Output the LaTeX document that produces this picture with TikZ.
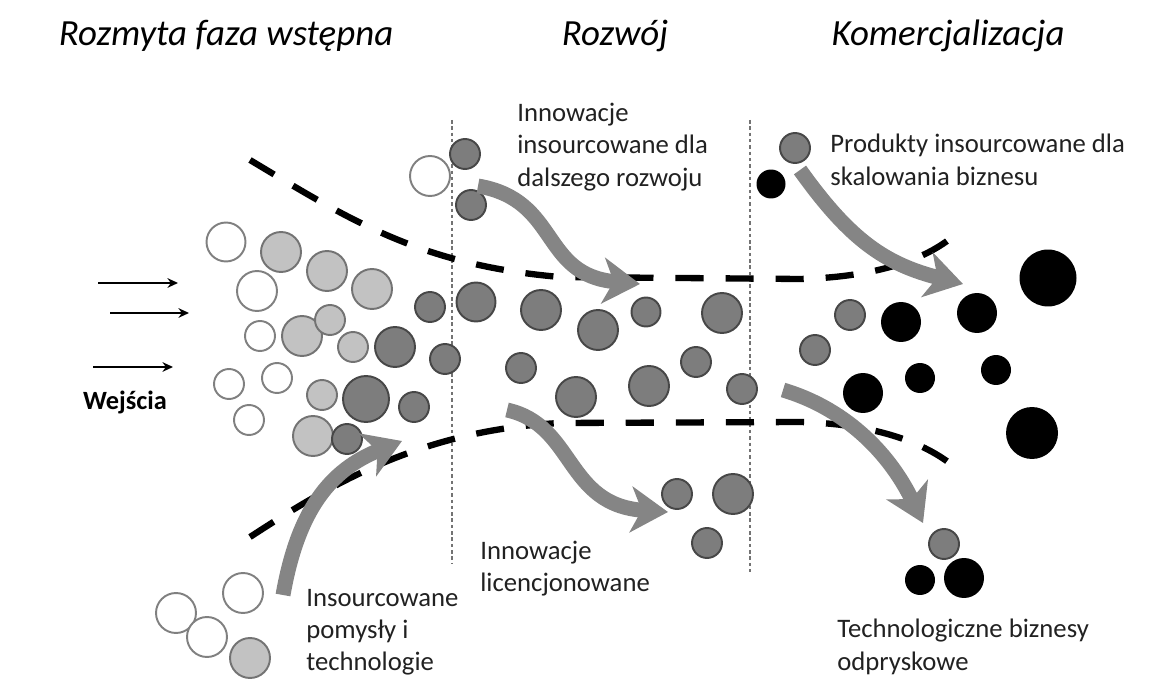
\documentclass[tikz,border=0pt]{standalone}
\usepackage{fontspec}
\setmainfont{Carlito}
\usetikzlibrary{arrows.meta}

\definecolor{ltfill}{gray}{0.76}
\definecolor{ltline}{gray}{0.45}
\definecolor{dkfill}{gray}{0.49}
\definecolor{dkline}{gray}{0.28}
\definecolor{wline}{gray}{0.50}
\definecolor{flowgray}{gray}{0.52}
\definecolor{sepgray}{gray}{0.45}
\definecolor{txtc}{gray}{0.13}

% one circle: style, name, centre, radius (px)
\newcommand\ball[4]{\node[#1, minimum size=#4*0.04cm] (#2) at (#3) {};}

\begin{document}
\begin{tikzpicture}[x=0.02cm, y=-0.02cm,
  ball/.style={circle, inner sep=0pt, outer sep=0pt, line width=1.1pt},
  wball/.style={ball, draw=wline, fill=white},
  lball/.style={ball, draw=ltline, fill=ltfill},
  dball/.style={ball, draw=dkline, fill=dkfill},
  kball/.style={ball, fill=black},
  ttl/.style={font=\fontsize{21}{25}\selectfont\itshape, anchor=base, inner sep=0pt},
  lbl/.style={font=\fontsize{15.2}{18.3}\selectfont, align=left, anchor=north west, inner sep=0pt, text=txtc},
  sep/.style={draw=sepgray, line width=0.9pt, dash pattern=on 2pt off 1.6pt},
  funnel/.style={line width=3.6pt, dash pattern=on 16pt off 12.5pt},
  flow/.style={draw=flowgray, line width=8.5pt, -{Stealth[length=21pt, width=26pt, inset=6pt]}},
  inflow/.style={line width=1.7pt, -{Stealth[length=6pt, width=5.5pt]}}
]
\useasboundingbox (0,0) rectangle (1176,685);

% stage titles
\node[ttl] (t1) at (226,46) {Rozmyta faza wstępna};
\node[ttl] (t2) at (615,46) {Rozwój};
\node[ttl] (t3) at (948,46) {Komercjalizacja};

% stage separators
\coordinate (s1t) at (452,120); \coordinate (s1b) at (452,563);
\coordinate (s2t) at (750,120); \coordinate (s2b) at (750,572);
\draw[sep] (s1t) -- (s1b);
\draw[sep] (s2t) -- (s2b);

% inputs
\coordinate (i1a) at (98,283);  \coordinate (i1b) at (178,283);
\coordinate (i2a) at (110,313); \coordinate (i2b) at (189,313);
\coordinate (i3a) at (93,367);  \coordinate (i3b) at (173,367);
\draw[inflow] (i1a) -- (i1b);
\draw[inflow] (i2a) -- (i2b);
\draw[inflow] (i3a) -- (i3b);
\node[font=\fontsize{15}{17}\selectfont\bfseries, anchor=base, inner sep=0pt] (win) at (125,410) {Wejścia};

% fuzzy front end
\ball{wball}{w1}{226,242}{19.5}
\ball{lball}{l1}{281,252}{20}
\ball{lball}{l2}{327,271}{20}
\ball{lball}{l3}{372,289}{20}
\ball{wball}{w2}{257,291}{20}
\ball{dball}{d1}{430,307}{15}
\ball{lball}{l4}{302,336}{20}
\ball{lball}{l5}{330,320}{15}
\ball{wball}{w3}{260,336}{15}
\ball{lball}{l6}{353,347}{15}
\ball{dball}{d2}{395,347}{20}
\ball{dball}{d3}{445,359}{15}
\ball{wball}{w4}{229,384}{15}
\ball{wball}{w5}{277,378}{15}
\ball{lball}{l7}{322,395}{15}
\ball{dball}{d4}{366,399}{23}
\ball{dball}{d5}{414,407}{15}
\ball{wball}{w6}{249,420}{15}
\ball{lball}{l8}{313,436}{20}
\ball{dball}{d6}{347,439}{15}

% ideas brought in from outside
\ball{wball}{w7}{430,176}{20}
\ball{dball}{d7}{465,154}{15}
\ball{dball}{d8}{471,205}{15}
\ball{wball}{w8}{243,593}{20}
\ball{wball}{w9}{176,613}{20}
\ball{wball}{w10}{207,637}{20}
\ball{lball}{l9}{250,658}{20}

% development
\ball{dball}{d9}{476,302}{19.5}
\ball{dball}{d10}{541,310}{20}
\ball{dball}{d11}{598,330}{20}
\ball{dball}{d12}{646,312}{14.5}
\ball{dball}{d13}{722,313}{20}
\ball{dball}{d14}{521,368}{15}
\ball{dball}{d15}{576,397}{20}
\ball{dball}{d16}{649,386}{20}
\ball{dball}{d17}{696,362}{15}
\ball{dball}{d18}{742,389}{15}
\ball{dball}{d19}{677,494}{15}
\ball{dball}{d20}{733,494}{20}
\ball{dball}{d21}{707,543}{15}

% commercialisation
\ball{dball}{g1}{795,148}{15}
\ball{kball}{k1}{771,184}{14.5}
\ball{kball}{k2}{1048,278}{28.5}
\ball{dball}{g2}{850,315}{15}
\ball{kball}{k3}{901,322}{20}
\ball{kball}{k4}{977,313}{20}
\ball{dball}{g3}{815,350}{15}
\ball{kball}{k5}{920,378}{15}
\ball{kball}{k6}{996,370}{15}
\ball{kball}{k7}{863,393}{20}
\ball{kball}{k8}{1032,433}{26}
\ball{dball}{g4}{944,544}{15}
\ball{kball}{k9}{920,580}{15}
\ball{kball}{k10}{964,578}{20}

% funnel outline
\coordinate (u0) at (250,160); \coordinate (u1) at (560,277);
\coordinate (u2) at (800,279); \coordinate (u3) at (958,232);
\draw[funnel] (u0) .. controls (350,220) and (420,265) .. (u1) -- (u2)
              .. controls (880,277) and (930,258) .. (u3);
\coordinate (b0) at (250,537); \coordinate (b1) at (560,423);
\coordinate (b2) at (800,422); \coordinate (b3) at (958,470);
\draw[funnel] (b0) .. controls (330,485) and (420,430) .. (b1) -- (b2)
              .. controls (880,424) and (930,445) .. (b3);

% flows
\coordinate (f1a) at (283,595); \coordinate (f1b) at (402,441);
\draw[flow] (f1a) .. controls (298,510) and (330,470) .. (f1b);
\coordinate (f2a) at (478,186); \coordinate (f2b) at (640,284);
\draw[flow] (f2a) .. controls (560,200) and (540,275) .. (f2b);
\coordinate (f3a) at (507,410); \coordinate (f3b) at (668,512);
\draw[flow] (f3a) .. controls (575,425) and (565,505) .. (f3b);
\coordinate (f4a) at (800,170); \coordinate (f4b) at (963,284);
\draw[flow] (f4a) .. controls (850,240) and (885,264) .. (f4b);
\coordinate (f5a) at (783,390); \coordinate (f5b) at (923,523);
\draw[flow] (f5a) .. controls (850,410) and (892,458) .. (f5b);

% labels
\node[lbl] (n1) at (517,103) {Innowacje\\insourcowane dla\\dalszego rozwoju};
\node[lbl] (n2) at (830,134) {Produkty insourcowane dla\\skalowania biznesu};
\node[lbl] (n3) at (480,541) {Innowacje\\licencjonowane};
\node[lbl] (n4) at (306,589) {Insourcowane\\pomysły i\\technologie};
\node[lbl] (n5) at (837,619) {Technologiczne biznesy\\odpryskowe};
\end{tikzpicture}
\end{document}
